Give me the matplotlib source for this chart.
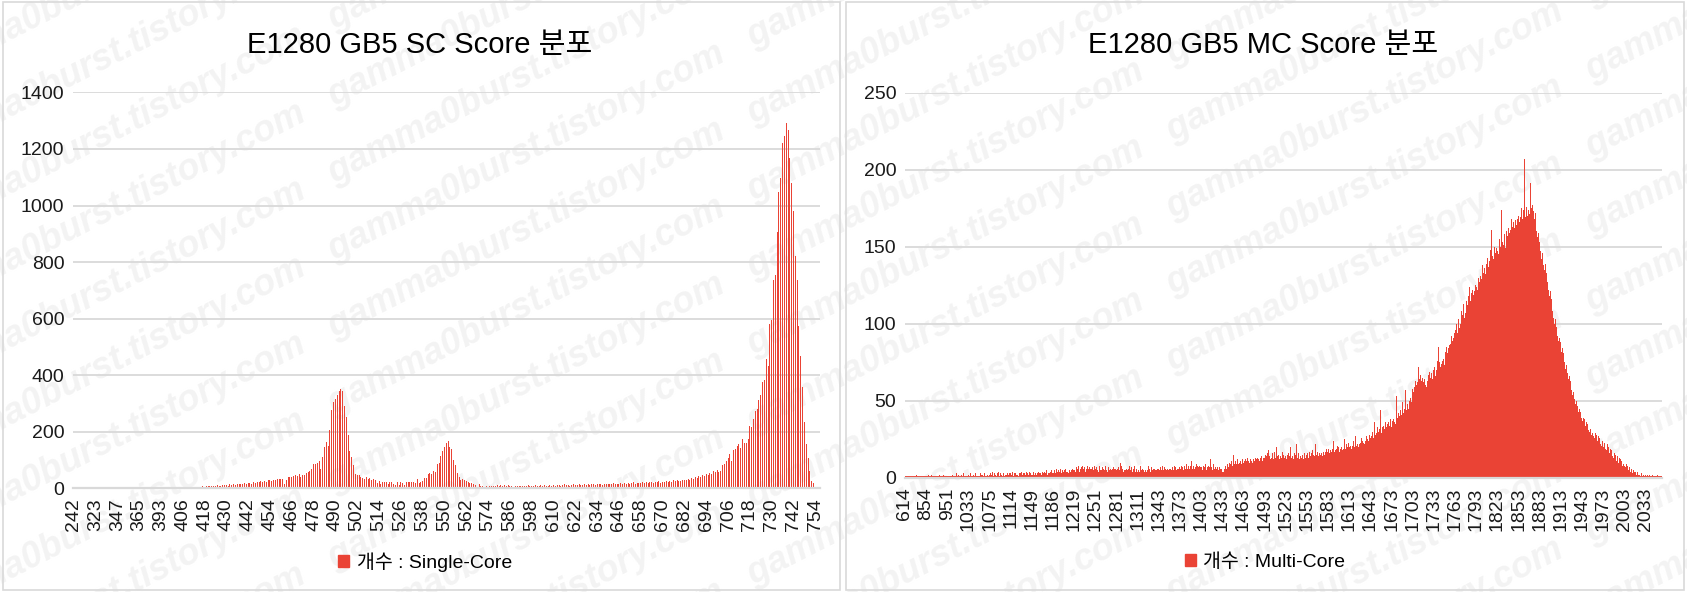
import numpy as np
import matplotlib
matplotlib.use("Agg")
import matplotlib.pyplot as plt
from matplotlib.patches import Patch, Rectangle

plt.rcParams["font.family"] = ["Liberation Sans", "Noto Sans CJK KR", "DejaVu Sans"]

# ---- 데이터 ----
# 싱글코어: 실제로 등장한 점수만 카테고리, 12칸마다 라벨
sc_tick_labels = [242, 323, 347, 365, 393] + list(range(406, 755, 12))
sc_counts = [
    1, 1, 1, 1, 1, 1, 1, 1, 1, 1, 1, 1,
    1, 1, 1, 1, 1, 1, 1, 1, 1, 1, 1, 1,
    1, 1, 1, 1, 1, 1, 2, 1, 1, 1, 1, 1,
    1, 1, 1, 2, 1, 1, 1, 1, 1, 2, 1, 1,
    1, 2, 1, 1, 1, 2, 1, 1, 2, 1, 1, 2,
    2, 1, 3, 2, 4, 3, 5, 4, 6, 5, 4, 7,
    6, 8, 7, 9, 8, 10, 9, 11, 8, 10, 12, 11,
    12, 10, 14, 13, 15, 12, 16, 14, 17, 15, 18, 16,
    18, 20, 17, 22, 19, 24, 21, 25, 23, 27, 24, 28,
    29, 27, 31, 30, 32, 33, 33, 34, 15, 29, 40, 39,
    41, 44, 47, 44, 50, 41, 49, 46, 53, 57, 62, 68,
    88, 87, 89, 96, 68, 110, 146, 163, 149, 205, 277, 304,
    317, 329, 345, 352, 345, 293, 252, 188, 132, 111, 82, 50,
    48, 46, 41, 36, 33, 39, 33, 35, 29, 33, 29, 18,
    27, 16, 23, 21, 22, 15, 21, 21, 15, 13, 21, 11,
    21, 18, 12, 22, 22, 22, 22, 22, 20, 33, 18, 22,
    25, 36, 36, 50, 53, 50, 62, 57, 85, 91, 113, 131,
    147, 160, 166, 146, 140, 99, 82, 53, 39, 29, 32, 29,
    26, 22, 20, 18, 15, 11, 4, 14, 8, 8, 6, 8,
    6, 8, 8, 8, 8, 12, 8, 12, 8, 12, 8, 12,
    8, 8, 6, 8, 8, 9, 8, 10, 7, 9, 11, 8,
    10, 9, 12, 8, 10, 11, 9, 12, 10, 8, 11, 10,
    12, 10, 13, 11, 9, 12, 14, 11, 13, 10, 12, 14,
    11, 13, 15, 12, 11, 14, 13, 15, 12, 14, 16, 13,
    15, 14, 17, 13, 16, 15, 14, 17, 16, 18, 15, 17,
    16, 18, 15, 19, 17, 20, 16, 18, 21, 17, 19, 20,
    18, 22, 19, 21, 20, 23, 21, 19, 23, 22, 25, 20,
    24, 23, 26, 22, 27, 24, 28, 25, 29, 27, 26, 30,
    31, 28, 34, 30, 37, 33, 40, 36, 44, 39, 47, 43,
    50, 46, 55, 52, 60, 57, 64, 59, 63, 84, 86, 98,
    108, 120, 96, 134, 138, 150, 156, 144, 176, 162, 162, 176,
    219, 216, 246, 273, 282, 314, 329, 377, 383, 458, 431, 581,
    595, 737, 755, 907, 1046, 1099, 1222, 1244, 1290, 1267, 1168, 1078,
    982, 821, 737, 575, 467, 359, 234, 156, 108, 60, 26, 18,
    6, 3, 1,
]

# 멀티코어: 30칸마다 라벨
mc_tick_labels = [614, 854, 951, 1033, 1075, 1114, 1149, 1186, 1219, 1251,
                  1281, 1311] + list(range(1343, 2034, 30))
mc_counts = [
    1, 1, 1, 1, 1, 1, 1, 1, 1, 1, 1, 1, 1, 1, 1, 1, 2, 1, 1, 1, 1, 1, 1, 1, 1, 1, 1, 1, 1, 1,
    1, 1, 1, 2, 1, 1, 1, 1, 2, 1, 1, 1, 1, 1, 2, 1, 1, 1, 1, 2, 1, 1, 1, 1, 1, 2, 1, 1, 1, 1,
    1, 2, 1, 1, 3, 1, 1, 2, 1, 1, 1, 2, 1, 3, 1, 1, 2, 1, 1, 1, 2, 1, 1, 3, 1, 2, 1, 1, 2, 1,
    2, 1, 1, 3, 1, 2, 1, 2, 1, 1, 3, 1, 2, 1, 1, 2, 1, 3, 1, 2, 2, 1, 1, 3, 1, 2, 1, 2, 1, 1,
    2, 3, 1, 2, 4, 2, 1, 3, 2, 2, 1, 3, 2, 4, 1, 2, 3, 2, 1, 2, 3, 1, 4, 2, 2, 3, 1, 2, 3, 2,
    3, 2, 2, 4, 1, 3, 2, 3, 2, 4, 2, 1, 3, 2, 3, 4, 2, 2, 3, 1, 3, 2, 4, 2, 3, 2, 2, 4, 3, 2,
    3, 2, 4, 3, 2, 3, 5, 2, 3, 4, 2, 3, 3, 5, 2, 4, 3, 2, 4, 3, 3, 5, 2, 4, 3, 3, 4, 2, 5, 3,
    4, 3, 5, 4, 3, 6, 4, 3, 5, 4, 4, 6, 3, 5, 4, 4, 5, 3, 6, 4, 5, 4, 3, 5, 6, 4, 5, 4, 6, 5,
    5, 6, 4, 7, 5, 6, 8, 5, 4, 6, 7, 5, 8, 6, 5, 7, 4, 6, 5, 8, 6, 5, 7, 6, 4, 6, 7, 5, 6, 8,
    6, 5, 7, 5, 4, 6, 8, 5, 6, 5, 7, 4, 6, 5, 8, 6, 5, 4, 6, 7, 5, 6, 8, 5, 6, 4, 7, 6, 5, 6,
    5, 6, 4, 7, 5, 6, 10, 8, 5, 6, 4, 5, 7, 5, 6, 4, 5, 6, 8, 4, 5, 7, 5, 4, 6, 5, 8, 4, 6, 5,
    4, 5, 6, 4, 8, 5, 4, 6, 5, 7, 4, 5, 6, 4, 5, 8, 5, 6, 4, 5, 7, 5, 6, 4, 6, 5, 8, 5, 6, 5,
    6, 5, 7, 6, 5, 8, 6, 5, 7, 6, 8, 5, 6, 7, 5, 6, 8, 6, 5, 7, 6, 5, 8, 6, 7, 5, 6, 8, 6, 7,
    7, 6, 8, 6, 7, 5, 8, 7, 6, 9, 7, 6, 8, 7, 6, 8, 11, 7, 6, 8, 7, 6, 7, 9, 6, 8, 7, 6, 8, 7,
    6, 7, 5, 8, 6, 7, 9, 6, 5, 7, 8, 6, 7, 12, 6, 7, 5, 8, 9, 6, 7, 8, 6, 7, 9, 5, 7, 6, 8, 6,
    4, 5, 4, 6, 7, 8, 6, 9, 8, 7, 10, 8, 9, 11, 8, 10, 15, 9, 8, 11, 9, 10, 12, 9, 10, 14, 11, 9, 10, 12,
    10, 11, 9, 12, 11, 10, 13, 11, 12, 10, 12, 11, 13, 10, 12, 14, 11, 13, 12, 10, 13, 12, 15, 11, 13, 12, 14, 11, 13, 12,
    13, 15, 12, 14, 16, 13, 18, 14, 12, 15, 13, 16, 14, 12, 17, 13, 15, 20, 14, 13, 15, 12, 16, 14, 13, 17, 14, 15, 13, 16,
    14, 12, 15, 13, 16, 14, 12, 20, 13, 15, 14, 12, 16, 13, 15, 22, 14, 13, 16, 12, 15, 14, 13, 17, 15, 12, 14, 16, 13, 15,
    14, 16, 13, 15, 17, 14, 16, 13, 18, 15, 17, 14, 22, 16, 15, 17, 14, 18, 16, 15, 19, 16, 14, 17, 18, 15, 17, 16, 19, 17,
    17, 19, 16, 18, 20, 17, 19, 18, 24, 17, 20, 18, 19, 21, 18, 20, 17, 22, 19, 20, 18, 21, 19, 25, 20, 19, 22, 21, 20, 23,
    20, 22, 21, 19, 23, 21, 24, 20, 22, 27, 21, 23, 22, 20, 24, 22, 23, 26, 21, 24, 23, 25, 22, 24, 27, 23, 25, 24, 26, 28,
    26, 28, 27, 30, 26, 29, 36, 28, 31, 29, 33, 30, 27, 32, 44, 31, 29, 33, 30, 34, 32, 36, 31, 33, 35, 32, 36, 34, 38, 35,
    33, 37, 34, 38, 36, 41, 35, 53, 39, 37, 42, 40, 38, 44, 41, 43, 49, 42, 45, 43, 57, 44, 46, 48, 45, 50, 47, 52, 49, 55,
    58, 56, 61, 59, 63, 60, 66, 62, 72, 61, 64, 67, 63, 81, 65, 62, 68, 64, 60, 66, 59, 63, 67, 61, 69, 65, 72, 68, 64, 70,
    68, 72, 66, 74, 70, 76, 73, 85, 75, 72, 78, 74, 76, 80, 77, 73, 82, 79, 85, 81, 88, 84, 86, 90, 87, 92, 89, 100, 91, 94,
    92, 96, 100, 94, 98, 103, 97, 105, 100, 108, 102, 106, 113, 104, 110, 107, 115, 109, 112, 118, 111, 124, 115, 120, 117, 122, 119, 126, 121, 125,
    124, 128, 122, 130, 133, 127, 131, 135, 129, 138, 133, 141, 136, 132, 146, 139, 143, 137, 145, 141, 148, 143, 161, 144, 147, 142, 150, 146, 163, 149,
    147, 152, 145, 155, 150, 148, 174, 153, 156, 151, 158, 155, 149, 160, 157, 113, 162, 159, 165, 161, 168, 163, 179, 166, 162, 170, 167, 164, 172, 168,
    170, 166, 173, 169, 175, 171, 168, 174, 207, 172, 169, 176, 183, 170, 174, 178, 171, 191, 175, 172, 177, 173, 170, 168, 172, 165, 160, 156, 159, 150,
    153, 147, 150, 142, 146, 138, 141, 135, 139, 131, 133, 127, 129, 122, 118, 121, 113, 116, 108, 111, 104, 100, 103, 96, 98, 92, 95, 89, 91, 85,
    88, 82, 84, 79, 81, 75, 78, 71, 73, 68, 70, 64, 66, 61, 63, 57, 60, 54, 56, 51, 53, 48, 50, 45, 47, 43, 45, 41, 43, 39,
    41, 37, 39, 35, 38, 34, 36, 32, 35, 31, 33, 30, 32, 28, 31, 29, 27, 30, 26, 29, 25, 28, 24, 27, 23, 26, 22, 25, 21, 24,
    22, 20, 23, 19, 21, 18, 22, 17, 20, 16, 19, 15, 18, 14, 17, 13, 16, 12, 15, 11, 14, 12, 10, 13, 9, 12, 11, 8, 10, 9,
    8, 10, 7, 9, 6, 8, 5, 7, 6, 4, 6, 5, 3, 5, 4, 3, 4, 2, 3, 4, 2, 3, 2, 1, 3, 2, 1, 2, 2, 1,
    2, 1, 1, 2, 1, 1, 2, 1, 1, 1, 2, 1, 1, 1, 1, 1, 1, 2, 1, 1, 1, 1, 1, 1,
]

BAR_RED = "#EA4335"
GRID = "#d9d9d9"

fig = plt.figure(figsize=(16.87, 5.92), dpi=100)
fig.patch.set_facecolor("white")

# 워터마크 (배경)
wm = "gamma0burst.tistory.com   " * 7
for i in range(22):
    fig.text(-0.05, -1.75 + i * 0.13, wm, rotation=27, rotation_mode="anchor",
             fontsize=26, color="#f3f3f3", weight="bold", style="italic",
             ha="left", va="baseline", zorder=-5)

# 패널 테두리
for x0, w in [(0.0015, 0.4965), (0.5015, 0.497)]:
    fig.add_artist(Rectangle((x0, 0.004), w, 0.992, transform=fig.transFigure,
                             fill=False, edgecolor=GRID, lw=1.2, zorder=-4))


def excel_hist(ax, counts, labels, step, ymax, ystep, width):
    pos = np.arange(len(counts))
    ax.bar(pos, counts, width=width, color=BAR_RED, linewidth=0, zorder=2)
    ax.set_xlim(-0.5, len(counts) - 0.5)
    ax.set_ylim(0, ymax)
    ax.set_yticks(np.arange(0, ymax + 1, ystep))
    ax.set_xticks(pos[::step][:len(labels)])
    ax.set_xticklabels([str(v) for v in labels], rotation=90)
    ax.set_facecolor("none")
    ax.yaxis.grid(True, color=GRID, lw=1.3, zorder=0)
    ax.set_axisbelow(True)
    for s in ["top", "right", "left"]:
        ax.spines[s].set_visible(False)
    ax.spines["bottom"].set_color(GRID)
    ax.spines["bottom"].set_linewidth(1.6)
    ax.tick_params(axis="both", length=0, labelsize=14, colors="#1a1a1a")
    ax.tick_params(axis="x", pad=7)
    ax.tick_params(axis="y", pad=6)


ax1 = fig.add_axes([0.0431, 0.175, 0.4429, 0.669])
excel_hist(ax1, sc_counts, sc_tick_labels, 12, 1400, 200, 0.55)

ax2 = fig.add_axes([0.5362, 0.1926, 0.4490, 0.6511])
excel_hist(ax2, mc_counts, mc_tick_labels, 30, 250, 50, 1.0)

fig.text(0.249, 0.924, "E1280 GB5 SC Score 분포", ha="center", va="center",
         fontsize=21, color="black")
fig.text(0.749, 0.924, "E1280 GB5 MC Score 분포", ha="center", va="center",
         fontsize=21, color="black")

for ax, lab, xc in [(ax1, "개수 : Single-Core", 0.252), (ax2, "개수 : Multi-Core", 0.75)]:
    ax.legend(handles=[Patch(color=BAR_RED)], labels=[lab], loc="center",
              bbox_to_anchor=(xc, 0.051), bbox_transform=fig.transFigure,
              frameon=False, fontsize=14, handlelength=0.55, handleheight=0.55,
              handletextpad=0.4)

fig.savefig("out.png", dpi=100)
